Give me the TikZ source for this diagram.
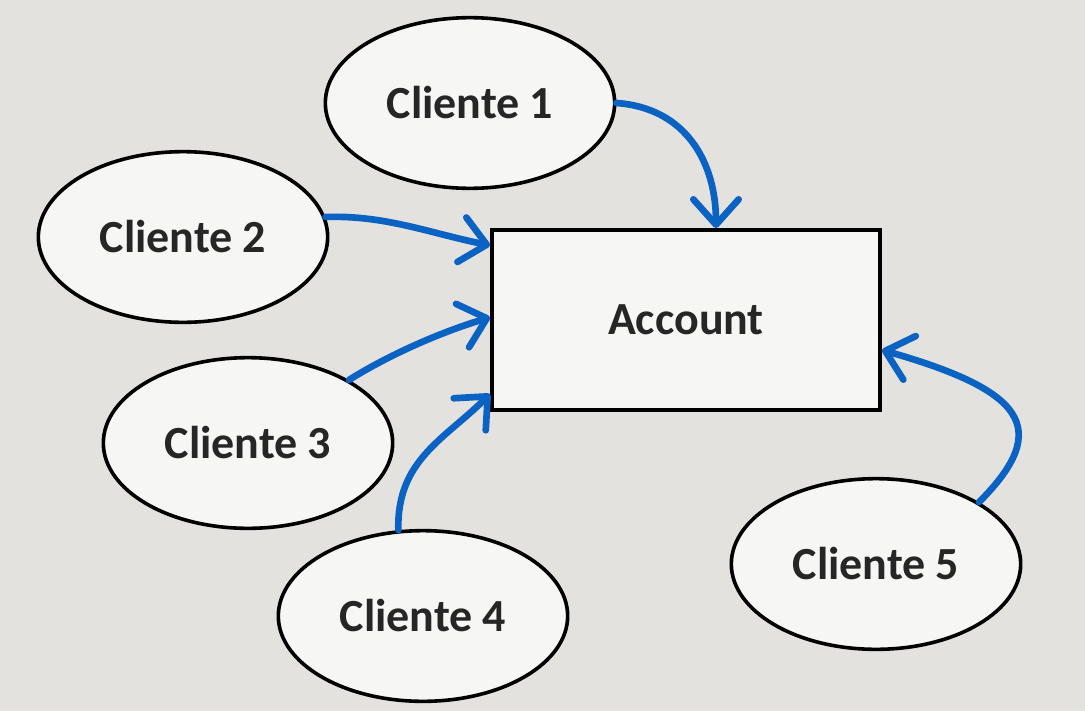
\documentclass[tikz,border=0pt]{standalone}
\usepackage{fontspec}
\setmainfont{Carlito}
\usetikzlibrary{shapes.geometric,arrows.meta}
\definecolor{bg}{HTML}{E3E2DF}
\definecolor{paper}{HTML}{F6F6F5}
\definecolor{ink}{HTML}{262626}
\definecolor{flow}{HTML}{0A62C2}
\tikzset{
  client/.style={ellipse, draw=black, line width=2.7pt, fill=paper,
    minimum width=217pt, minimum height=128pt, inner sep=0pt,
    text=ink, font=\fontsize{34.5}{38}\selectfont\bfseries},
  entity/.style={rectangle, draw=black, line width=3pt, fill=paper,
    minimum width=291pt, minimum height=135pt, inner sep=0pt,
    text=ink, font=\fontsize{34.5}{38}\selectfont\bfseries},
  link/.style={draw=flow, line width=5pt, line cap=round, line join=round,
    -{Straight Barb[length=19pt, width=34pt, line cap=round, line join=round]}},
}
\begin{document}
\begin{tikzpicture}[x=0.75pt, y=-0.75pt]
  \fill[bg] (0,0) rectangle (1085,711);
  \useasboundingbox (0,0) rectangle (1085,711);

  \node[entity] (acc) at (686,320) {Account};
  \node[client] (c1) at (470,103) {Cliente 1};
  \node[client] (c2) at (183,237) {Cliente 2};
  \node[client] (c3) at (248,443) {Cliente 3};
  \node[client] (c4) at (423,616) {Cliente 4};
  \node[client] (c5) at (876,564) {Cliente 5};

  \draw[link] (c1.east) .. controls +(70,5) and +(0,-65) .. ([xshift=22.5pt]acc.north);
  \draw[link] (c2.8) .. controls +(60,-2) and +(-60,-12) .. ([yshift=56pt]acc.west);
  \draw[link] (c3.32) .. controls +(40,-25) and +(-50,15) .. ([yshift=2pt]acc.west);
  \draw[link] (c4.106) .. controls +(-2,-70) and +(-45,45) .. ([yshift=13.5pt]acc.south west);
  \draw[link] (c5.31) .. controls +(75,-75) and +(140,40) .. ([yshift=-22.5pt]acc.east);
\end{tikzpicture}
\end{document}
